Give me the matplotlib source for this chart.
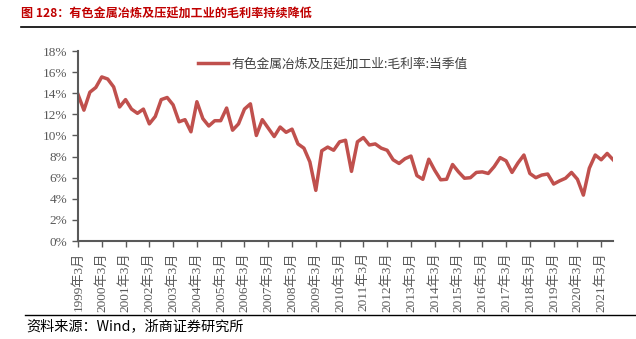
import matplotlib.pyplot as plt
from matplotlib.ticker import FuncFormatter

# quarterly gross margin (%), 1999Q1 .. 2021Q3
margin = [
    13.9, 12.4, 14.1, 14.55, 15.55, 15.35, 14.6, 12.7,
    13.4, 12.5, 12.1, 12.5, 11.1, 11.8, 13.4, 13.6,
    12.9, 11.3, 11.5, 10.35, 13.2, 11.6, 10.9, 11.4,
    11.4, 12.6, 10.5, 11.1, 12.5, 13.0, 10.0, 11.5,
    10.7, 9.9, 10.8, 10.3, 10.6, 9.2, 8.8, 7.5,
    4.8, 8.55, 8.9, 8.6, 9.4, 9.55, 6.6, 9.4,
    9.8, 9.1, 9.2, 8.8, 8.6, 7.7, 7.35, 7.8,
    8.05, 6.2, 5.85, 7.75, 6.7, 5.8, 5.85, 7.25,
    6.55, 5.95, 6.0, 6.5, 6.55, 6.4, 7.05, 7.9,
    7.6, 6.5, 7.4, 8.15, 6.4, 6.0, 6.25, 6.35,
    5.4, 5.7, 5.95, 6.5, 5.85, 4.35, 6.9, 8.15,
    7.7, 8.3, 7.7,
]
years = list(range(1999, 2022))
tick_labels = [f"{y}年3月" for y in years]
series_name = "有色金属冶炼及压延加工业:毛利率:当季值"
title = "图 128：有色金属冶炼及压延加工业的毛利率持续降低"
source = "资料来源：Wind，浙商证券研究所"

serif = ['Liberation Serif', 'Noto Sans CJK SC']
cjk = ['Noto Sans CJK SC', 'DejaVu Sans']
plt.rcParams['font.family'] = cjk

fig = plt.figure(figsize=(6.36, 3.39), dpi=100)
ax = fig.add_axes([0.1226, 0.289, 0.964 - 0.1226, 0.5604])

x = list(range(len(margin)))
ax.plot(x, [v / 100 for v in margin], color='#C0504D', lw=2.5, label=series_name,
        solid_joinstyle='round')

ax.set_xlim(0, len(margin) - 1)
ax.set_ylim(0, 0.18)
ax.set_yticks([i / 100 for i in range(0, 19, 2)])
ax.yaxis.set_major_formatter(FuncFormatter(lambda v, p: f"{v * 100:.0f}%"))
ax.set_xticks([4 * i for i in range(len(years))])
ax.set_xticklabels(tick_labels, rotation=90, family=serif, fontsize=9.5, color='#595959')
for lab in ax.get_yticklabels():
    lab.set_family(serif)
ax.tick_params(axis='y', labelsize=9.5, colors='#595959', length=4, width=1, direction='out')
ax.tick_params(axis='x', length=4, width=1, direction='out', colors='#595959', pad=4)

for s in ['top', 'right']:
    ax.spines[s].set_visible(False)
for s in ['left', 'bottom']:
    ax.spines[s].set_color('#595959')
    ax.spines[s].set_linewidth(1.5)

leg = ax.legend(loc='upper left', bbox_to_anchor=(0.212, 1.0), frameon=False,
                fontsize=9.2, handlelength=2.4, handletextpad=0.2, borderpad=0)
for t in leg.get_texts():
    t.set_color('#404040')

fig.text(21 / 636, 1 - 14 / 339, title, fontsize=8.7, fontweight='bold',
         color='#C00000', va='center', ha='left')
fig.add_artist(plt.Line2D([21 / 636, 1], [1 - 27 / 339] * 2, color='black', lw=1.2))
fig.add_artist(plt.Line2D([25 / 636, 1], [1 - 315 / 339] * 2, color='black', lw=1.0))
fig.text(26 / 636, 1 - 326 / 339, source, fontsize=10.2, color='black',
         va='center', ha='left', family=['Noto Sans CJK SC', 'Liberation Serif'])

fig.savefig('out.png', dpi=100)
